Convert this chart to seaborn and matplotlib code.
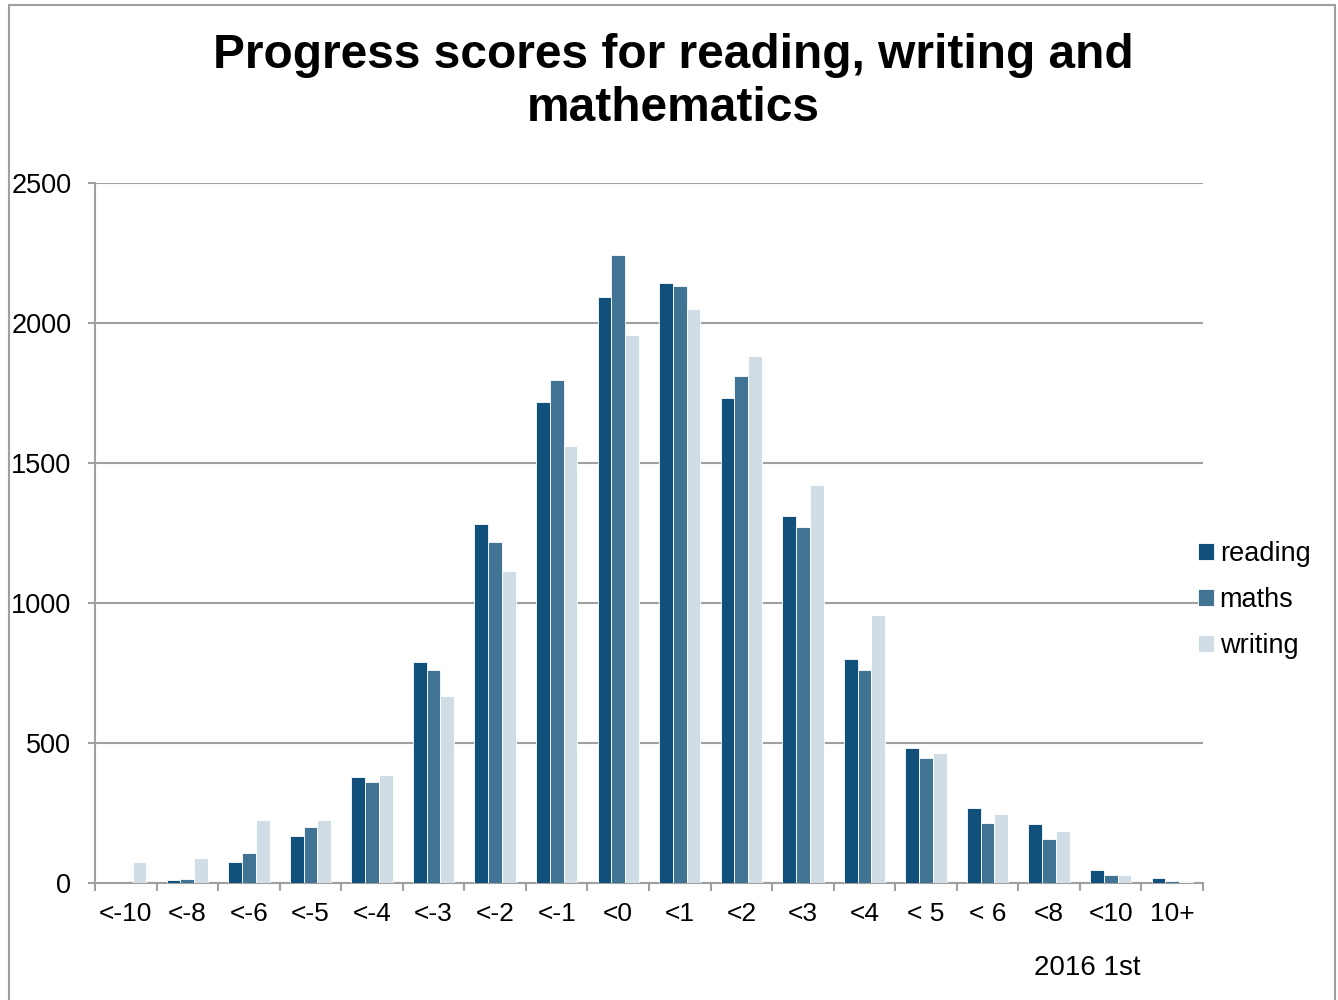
import pandas as pd
import matplotlib.pyplot as plt
import seaborn as sns
from matplotlib.patches import Rectangle
from matplotlib.ticker import FixedLocator

# Data
bands = ["<-10", "<-8", "<-6", "<-5", "<-4", "<-3", "<-2", "<-1", "<0",
         "<1", "<2", "<3", "<4", "< 5", "< 6", "<8", "<10", "10+"]
reading = [0, 10, 75, 168, 379, 789, 1282, 1718, 2093,
           2143, 1732, 1311, 800, 482, 268, 211, 46, 18]
maths = [0, 14, 107, 200, 361, 761, 1218, 1796, 2243,
         2132, 1811, 1271, 761, 446, 214, 157, 29, 7]
writing = [75, 89, 225, 225, 386, 668, 1114, 1561, 1957,
           2050, 1882, 1421, 957, 464, 246, 186, 29, 2]
yticks = [0, 500, 1000, 1500, 2000, 2500]
subjects = ["reading", "maths", "writing"]
colors = ["#11507a", "#417394", "#d0dde6"]

df = pd.DataFrame({
    "band": bands * 3,
    "count": reading + maths + writing,
    "subject": [s for s in subjects for _ in bands],
})

sns.set_style("white")
plt.rcParams["font.family"] = ["Liberation Sans", "DejaVu Sans"]
plt.rcParams["text.color"] = "black"
plt.rcParams["xtick.color"] = "black"
plt.rcParams["ytick.color"] = "black"

fig = plt.figure(figsize=(13.38, 10), dpi=100)
ax = fig.add_axes([95 / 1338, 1 - 883 / 1000, (1203 - 95) / 1338, 700 / 1000])

sns.barplot(data=df, x="band", y="count", hue="subject", order=bands,
            hue_order=subjects, palette=colors, saturation=1, width=0.67,
            edgecolor="white", linewidth=0.6, ax=ax, zorder=3)

grey = "#a0a0a0"
ax.set_ylim(0, 2500)
ax.set_xlim(-0.5, len(bands) - 0.5)
ax.set_yticks(yticks)
ax.set_yticklabels([str(v) for v in yticks], ha="right")
ax.grid(axis="y", color=grey, linewidth=1.5, zorder=0)
ax.set_axisbelow(True)
for side in ["top", "right"]:
    ax.spines[side].set_visible(False)
for side in ["left", "bottom"]:
    ax.spines[side].set_color(grey)
    ax.spines[side].set_linewidth(1.5)

ax.tick_params(axis="y", which="major", length=5, width=1.5, color=grey,
               labelsize=19.5, pad=12, left=True, labelcolor="black")
ax.xaxis.set_minor_locator(FixedLocator([i - 0.5 for i in range(len(bands) + 1)]))
ax.tick_params(axis="x", which="minor", length=6, width=1.5, color=grey, bottom=True)
ax.tick_params(axis="x", which="major", length=0, labelsize=19, pad=14, labelcolor="black")
ax.set_xlabel("")
ax.set_ylabel("")

ax.legend(loc="center left", bbox_to_anchor=(1198 / 1338, 0.4), bbox_transform=fig.transFigure,
          frameon=False, fontsize=19.5, handlelength=0.6, handleheight=0.6,
          handletextpad=0.2, labelspacing=0.75, borderaxespad=0, borderpad=0)

fig.text(0.503, 0.918, "Progress scores for reading, writing and\nmathematics",
         ha="center", va="center", fontsize=34.5, fontweight="bold", linespacing=1.22)
fig.text(1087 / 1338, 1 - 968 / 1000, "2016 1st", ha="center", va="center", fontsize=20)

fig.patches.append(Rectangle((9 / 1338, -0.01), (1335 - 9) / 1338, 1 - 5 / 1000 + 0.01,
                             transform=fig.transFigure, fill=False,
                             edgecolor=grey, linewidth=1.5))

fig.savefig("out.png", dpi=100)
